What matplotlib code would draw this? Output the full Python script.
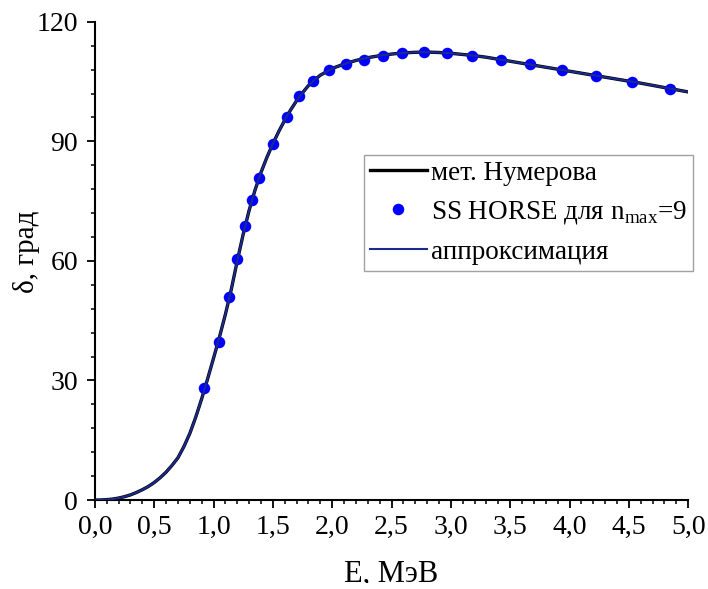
import numpy as np
import matplotlib.pyplot as plt
from matplotlib.ticker import MultipleLocator, FuncFormatter
from matplotlib.patches import Rectangle

plt.rcParams['font.family'] = ['Liberation Serif', 'DejaVu Serif']
plt.rcParams['mathtext.fontset'] = 'custom'
plt.rcParams['mathtext.rm'] = 'Liberation Serif'

# фазы рассеяния, метод Нумерова (сетка по энергии)
e_num = [0.0, 0.05, 0.1, 0.15, 0.2, 0.25, 0.3, 0.35, 0.4, 0.45, 0.5, 0.55, 0.6,
         0.65, 0.7, 0.75, 0.8, 0.85, 0.9, 0.95, 1.0, 1.05, 1.1, 1.15, 1.2,
         1.25, 1.3, 1.35, 1.4, 1.45, 1.5, 1.55, 1.6, 1.65, 1.7, 1.75, 1.8,
         1.85, 1.9, 2.0, 2.1, 2.2, 2.3, 2.4, 2.5, 2.6, 2.7, 2.8, 2.9, 3.0,
         3.1, 3.2, 3.3, 3.4, 3.5, 3.6, 3.7, 3.8, 3.9, 4.0, 4.2, 4.4, 4.6,
         4.8, 5.0]
d_num = [0.0, 0.02, 0.1, 0.25, 0.5, 0.85, 1.3, 1.9, 2.6, 3.4, 4.4, 5.6, 7.0,
         8.7, 10.6, 13.4, 16.7, 20.8, 25.4, 30.4, 35.6, 40.9, 46.6, 52.9, 60.0,
         66.7, 72.7, 77.8, 82.2, 86.0, 89.4, 92.5, 95.3, 97.9, 100.2, 102.2, 104.0,
         105.4, 106.6, 108.3, 109.4, 110.3, 111.0, 111.5, 111.9, 112.2, 112.35, 112.4, 112.3, 112.1,
         111.8, 111.5, 111.1, 110.6, 110.1, 109.6, 109.1, 108.6, 108.1, 107.6, 106.6, 105.6, 104.6,
         103.5, 102.4]

# SS HORSE, n_max = 9
e_ss = [0.919, 1.043, 1.130, 1.200, 1.262, 1.324, 1.383, 1.503, 1.616, 1.723,
        1.841, 1.973, 2.116, 2.268, 2.428, 2.591, 2.774, 2.965, 3.181, 3.421,
        3.668, 3.940, 4.224, 4.530, 4.848]
d_ss = [28.0, 39.6, 51.0, 60.6, 68.8, 75.4, 80.8, 89.3, 96.0, 101.3,
        105.1, 107.8, 109.4, 110.5, 111.5, 112.2, 112.4, 112.2, 111.5, 110.5,
        109.3, 107.9, 106.5, 104.9, 103.2]

# аппроксимация
e_fit = e_num
d_fit = d_num

fig = plt.figure(figsize=(7.08, 5.89), dpi=100)
ax = fig.add_axes([0.134, 0.151, 0.838, 0.812])

ax.plot(e_num, d_num, color='black', lw=2.4, label='мет. Нумерова', zorder=2)
ax.plot(e_ss, d_ss, 'o', color='#0000ff', ms=8.3, mec='none',
        label=r'SS HORSE для n$_{\mathrm{max}}$=9', zorder=3)
ax.plot(e_fit, d_fit, color='#1c2a8c', lw=1.5, label='аппроксимация', zorder=4)

ax.set_xlim(0, 5)
ax.set_ylim(0, 120)
ax.xaxis.set_major_locator(MultipleLocator(0.5))
ax.xaxis.set_minor_locator(MultipleLocator(0.1))
ax.yaxis.set_major_locator(MultipleLocator(30))
ax.yaxis.set_minor_locator(MultipleLocator(6))
ax.xaxis.set_major_formatter(FuncFormatter(lambda v, p: f'{v:.1f}'.replace('.', ',')))

for s in ('top', 'right'):
    ax.spines[s].set_visible(False)
for s in ('left', 'bottom'):
    ax.spines[s].set_linewidth(1.5)
ax.tick_params(which='major', direction='out', length=6, width=1.3, labelsize=20)
ax.tick_params(axis='y', which='major', pad=6)
ax.tick_params(axis='x', which='major', pad=5)
ax.tick_params(which='minor', direction='out', length=3.2, width=1.1)

ax.set_xlabel('E, МэВ', fontsize=22)
ax.xaxis.set_label_coords(0.5, -0.124)
ax.set_ylabel('δ, град', fontsize=21)
ax.yaxis.set_label_coords(-0.092, 0.52)

leg = ax.legend(loc='upper left', bbox_to_anchor=(0.4536, 0.7218), fontsize=19.5,
                frameon=True, fancybox=False, edgecolor='#8a8a8a', handlelength=2.1,
                handletextpad=0.15, labelspacing=0.5, borderpad=0.22, borderaxespad=0)
leg.get_frame().set_linewidth(1.0)

# нижний край листа обрезан
fig.patches.append(Rectangle((0, 0), 1, 6 / 589, transform=fig.transFigure,
                             facecolor='white', edgecolor='none', zorder=10))

fig.savefig('out.png', dpi=100)
